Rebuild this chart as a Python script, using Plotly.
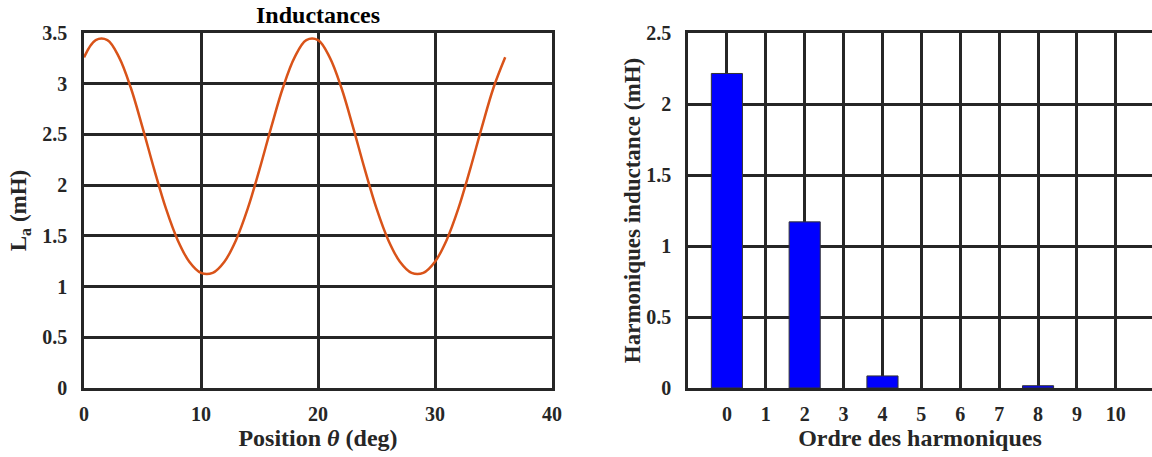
import plotly.graph_objects as go

# Left panel: inductance vs rotor position
theta_deg = [0, 1, 2, 3, 4, 5, 6, 7, 8, 9, 10, 11, 12, 13, 14, 15, 16, 17, 18,
             19, 20, 21, 22, 23, 24, 25, 26, 27, 28, 29, 30, 31, 32, 33, 34, 35, 36]
la_mh = [3.26, 3.43, 3.43, 3.26, 2.96, 2.57, 2.155, 1.77, 1.46, 1.245, 1.135, 1.135,
         1.245, 1.46, 1.77, 2.155, 2.57, 2.96, 3.26, 3.43, 3.43, 3.26, 2.96, 2.57,
         2.155, 1.77, 1.46, 1.245, 1.135, 1.135, 1.245, 1.46, 1.77, 2.155, 2.57,
         2.96, 3.26]

# Right panel: harmonic amplitudes
harm_order = [0, 1, 2, 3, 4, 5, 6, 7, 8, 9, 10]
harm_mh = [2.215, 0, 1.17, 0, 0.085, 0, 0, 0, 0.016, 0, 0]

left_xticks = [0, 10, 20, 30, 40]
left_yticks = [0, 0.5, 1, 1.5, 2, 2.5, 3, 3.5]
right_yticks = [0, 0.5, 1, 1.5, 2, 2.5]

W, H = 1152, 457
FONT = "Liberation Serif, Times New Roman, serif"
DARK = "#262626"

fig = go.Figure()
fig.add_trace(go.Scatter(x=theta_deg, y=la_mh, mode="lines",
                         line=dict(color="#D95319", width=2.5, shape="spline", smoothing=1.0),
                         xaxis="x", yaxis="y", showlegend=False))
fig.add_trace(go.Bar(x=harm_order, y=harm_mh, width=0.8,
                     marker=dict(color="#0000FF",
                                 line=dict(color="#333333",
                                           width=[1 if v > 0 else 0 for v in harm_mh])),
                     xaxis="x2", yaxis="y2", showlegend=False))

ydom = [1 - 388 / H, 1 - 33 / H]
tickfont = dict(family=FONT, size=20, color=DARK, weight="bold")
xtitlefont = dict(family=FONT, size=24, color=DARK, weight="bold")
ytitlefont = dict(family=FONT, size=23, color=DARK, weight="bold")

common = dict(showgrid=True, gridcolor=DARK, gridwidth=2.5, zeroline=False,
              showline=True, linecolor=DARK, linewidth=2.5, ticks="",
              tickfont=tickfont, automargin=False)

fig.update_layout(
    width=W, height=H,
    margin=dict(l=0, r=0, t=0, b=0),
    paper_bgcolor="white", plot_bgcolor="white",
    xaxis=dict(domain=[84 / W, 552 / W], range=[0, 40],
               tickvals=left_xticks, mirror=True, anchor="y", ticklabelstandoff=6,
               title=dict(text="Position <i>θ</i> (deg)", font=xtitlefont, standoff=4),
               **common),
    yaxis=dict(domain=ydom, range=[0, 3.5], tickvals=left_yticks, mirror=True,
               anchor="x", ticklabelstandoff=10,
               title=dict(text="L<sub>a</sub> (mH)", font=ytitlefont, standoff=10),
               **common),
    xaxis2=dict(domain=[688 / W, 1.0], range=[-1, 10.93],
                tickvals=harm_order, mirror=True, anchor="y2", ticklabelstandoff=6,
                title=dict(text="Ordre des harmoniques", font=xtitlefont, standoff=4),
                **common),
    yaxis2=dict(domain=ydom, range=[0, 2.5], tickvals=right_yticks, mirror=False,
                anchor="x2", ticklabelstandoff=10,
                title=dict(text="Harmoniques inductance (mH)", font=ytitlefont, standoff=0),
                **common),
    bargap=0.2,
    annotations=[dict(text="Inductances", x=(84 + 552) / 2 / W,
                      y=1 - 1 / H,
                      xref="paper", yref="paper", showarrow=False,
                      xanchor="center", yanchor="top", borderpad=0,
                      font=dict(family=FONT, size=24, color="#000000", weight="bold"))],
)

fig.write_html("out.html", config={"displayModeBar": False},
               post_script="document.body.style.margin='0';")
